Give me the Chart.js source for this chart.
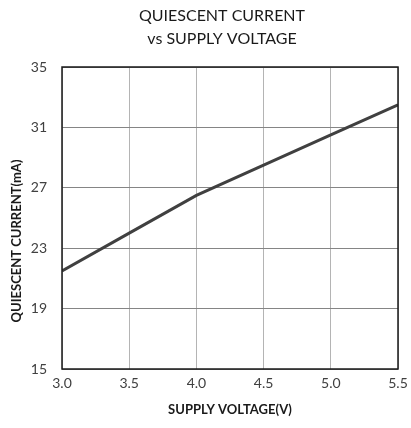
<!DOCTYPE html>
<html>
<head>
<meta charset="utf-8">
<script src="https://cdn.jsdelivr.net/npm/chart.js@4"></script>
<style>
html,body{margin:0;padding:0;background:#fff;}
#wrap{width:411px;height:428px;position:relative;}
</style>
</head>
<body>
<div id="wrap"><canvas id="c" width="411" height="428"></canvas></div>
<script>
const voltage = [3.0, 3.5, 4.0, 4.5, 5.0, 5.5];
const current = [21.5, 24.0, 26.5, 28.5, 30.5, 32.5];
const xTicks = [3.0, 3.5, 4.0, 4.5, 5.0, 5.5];
const yTicks = [15, 19, 23, 27, 31, 35];
const titleLines = ['QUIESCENT CURRENT', 'vs SUPPLY VOLTAGE'];
const xTitle = 'SUPPLY VOLTAGE(V)';
const yTitle = 'QUIESCENT CURRENT(mA)';

const FONT = 'Lato, "Liberation Sans", sans-serif';

const frame = {
  id: 'frame',
  afterDraw(chart) {
    const a = chart.chartArea, ctx = chart.ctx;
    ctx.save();
    ctx.strokeStyle = '#1a1a1a';
    ctx.lineWidth = 1.5;
    ctx.strokeRect(a.left, a.top, a.right - a.left, a.bottom - a.top);
    // chart title
    ctx.fillStyle = '#1a1a1a';
    ctx.textAlign = 'center';
    ctx.textBaseline = 'middle';
    ctx.font = '16px ' + FONT;
    titleLines.forEach((t, i) => ctx.fillText(t, 222, 16 + i * 22.5));
    // y axis title
    ctx.font = 'bold 13px ' + FONT;
    ctx.translate(17, (a.top + a.bottom) / 2 + 23);
    ctx.rotate(-Math.PI / 2);
    ctx.fillText(yTitle, 0, 0);
    ctx.restore();
  }
};

new Chart(document.getElementById('c'), {
  type: 'line',
  data: {
    datasets: [{
      data: voltage.map((v, i) => ({x: v, y: current[i]})),
      borderColor: '#404040',
      borderWidth: 3,
      pointRadius: 0,
      tension: 0,
      fill: false
    }]
  },
  options: {
    responsive: false,
    animation: false,
    layout: {padding: {top: 67, right: 13, bottom: 10, left: 9}},
    plugins: {
      legend: {display: false},
      tooltip: {enabled: false},
      title: {display: false}
    },
    scales: {
      x: {
        type: 'linear',
        min: 3, max: 5.5,
        afterBuildTicks: s => { s.ticks = xTicks.map(v => ({value: v})); },
        afterFit: s => { s.height = 49; s.paddingRight = 0; s.paddingLeft = 0; },
        ticks: {
          color: '#404040',
          font: {family: FONT, size: 14},
          padding: 6,
          callback: v => Number(v).toFixed(1)
        },
        grid: {color: '#b4b4b4', lineWidth: 1, drawTicks: false},
        border: {display: false},
        title: {
          display: true, text: xTitle, color: '#1a1a1a',
          font: {family: FONT, size: 13, weight: 'bold'},
          padding: {top: 0, bottom: 0}
        }
      },
      y: {
        min: 15, max: 35,
        afterBuildTicks: s => { s.ticks = yTicks.map(v => ({value: v})); },
        afterFit: s => { s.width = 53; s.paddingTop = 0; s.paddingBottom = 0; },
        ticks: {
          color: '#404040',
          font: {family: FONT, size: 14},
          padding: 15
        },
        grid: {color: '#858585', lineWidth: 1, drawTicks: false},
        border: {display: false}
      }
    }
  },
  plugins: [frame]
});
</script>
</body>
</html>
